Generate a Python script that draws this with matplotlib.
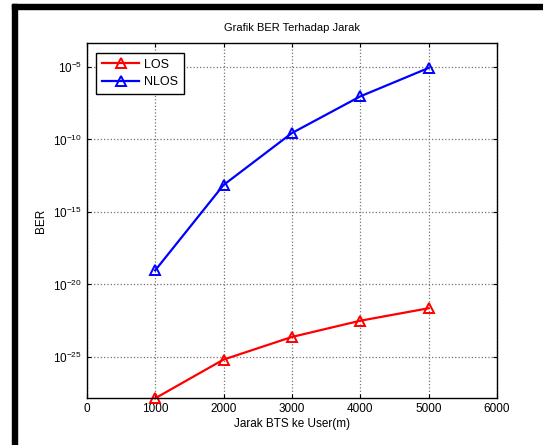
import numpy as np
import matplotlib
matplotlib.use("Agg")
import matplotlib.pyplot as plt
from matplotlib.patches import Rectangle

plt.rcParams['font.family'] = ['Liberation Sans', 'DejaVu Sans']
plt.rcParams['mathtext.fontset'] = 'custom'
plt.rcParams['mathtext.rm'] = 'Liberation Sans'

# data (exponents of BER)
jarak = [1000, 2000, 3000, 4000, 5000]
los_exp = [-27.85, -25.18, -23.62, -22.5, -21.64]
nlos_exp = [-19.03, -13.14, -9.56, -7.03, -5.07]
xticks = [0, 1000, 2000, 3000, 4000, 5000, 6000]
yticks_exp = [-25, -20, -15, -10, -5]

los = 10.0 ** np.array(los_exp)
nlos = 10.0 ** np.array(nlos_exp)

W, H = 543, 445
fig = plt.figure(figsize=(W / 100, H / 100), dpi=100)
ax = fig.add_axes([86.8 / W, 1 - 398.3 / H, (497 - 86.8) / W, (398.3 - 43.3) / H])

ax.semilogy(jarak, los, '-^', color='red', lw=1.6, ms=7, mfc='none', mew=1.4,
            label='LOS', clip_on=False)
ax.semilogy(jarak, nlos, '-^', color='blue', lw=1.6, ms=7, mfc='none', mew=1.4,
            label='NLOS', clip_on=False)

ax.set_xlim(0, 6000)
ax.set_ylim(10.0 ** -27.85, 10.0 ** -3.37)
ax.set_xticks(xticks)
ax.set_yticks([10.0 ** e for e in yticks_exp])
ax.set_yticklabels([r'$10^{%d}$' % e for e in yticks_exp])
ax.minorticks_off()
ax.tick_params(direction='in', top=True, right=True, length=3, width=0.8,
               labelsize=8.5)
ax.grid(True, color='0.45', linestyle=':', linewidth=0.9)
for s in ax.spines.values():
    s.set_linewidth(1.0)

ax.set_title('Grafik BER Terhadap Jarak', fontsize=8, pad=9)
ax.set_xlabel('Jarak BTS ke User(m)', fontsize=8.5, labelpad=2)
ax.set_ylabel('BER', fontsize=8.5, labelpad=4)

leg = ax.legend(loc='upper left', fontsize=9, fancybox=False, framealpha=1,
                edgecolor='black', borderpad=0.45, handlelength=3.0,
                labelspacing=0.45, handletextpad=0.4,
                bbox_to_anchor=(0.023, 0.972), borderaxespad=0)
leg.get_frame().set_linewidth(1.0)

# thick black frame on the left and top of the image
fig.patches.append(Rectangle((12 / W, 0), 5 / W, 1 - 4 / H, transform=fig.transFigure,
                             color='black', zorder=10))
fig.patches.append(Rectangle((12 / W, 1 - 9 / H), 1 - 12 / W, 5 / H,
                             transform=fig.transFigure, color='black', zorder=10))

fig.savefig('out.png', dpi=100)
